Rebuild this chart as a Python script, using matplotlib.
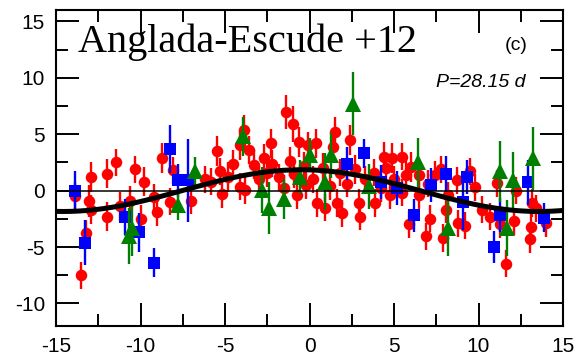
import numpy as np
import matplotlib
matplotlib.use('Agg')
import matplotlib.pyplot as plt
from matplotlib.ticker import MultipleLocator

plt.rcParams['axes.unicode_minus'] = False

# red circles: phase (d), RV residual (m/s), error
red_x = [-13.9, -13.5, -13.2, -13.05, -12.9, -12.9, -12.0, -12.0, -11.45, -11.2,
         -10.6, -10.3, -10.0, -9.8, -9.2, -9.0, -8.7, -8.25, -8.1, -7.0,
         -6.2, -5.5, -5.3, -5.2, -4.5, -4.1, -3.9, -3.6, -4.1, -3.8,
         -3.3, -2.7, -2.3, -2.2, -1.4, -1.15, -0.95, -0.75, -0.6, -0.2,
         -0.07, 0.4, 0.46, 0.9, 1.4, 1.5, 1.6, 1.9, 2.4, 2.9,
         3.0, 3.9, 4.4, 4.55, 4.75, 4.9, 5.45, 5.5, 5.7, 5.9,
         6.5, 6.5, 6.9, 7.1, 7.4, 7.9, 8.1, 8.2, 8.7, 8.8,
         9.2, 9.5, 10.2, 10.7, 11.1, 11.3, 11.6, 12.1, 12.2, 13.05,
         13.1, 13.15, 13.4, 14.0,
         -5.8, -4.8, -3.0, -2.5, -1.8, -1.5, -0.9, -0.3, 0.2, 0.8,
         1.2, 1.8, 2.2, 2.7, 3.3, 3.8, 4.2, 5.0, 6.0, 7.0, 7.8, 9.8]
red_y = [-0.5, -7.5, -3.8, -0.9, -1.7, 1.2, 1.5, -2.3, 2.5, -1.4,
         -0.9, 1.9, -2.5, 0.8, -0.6, -1.9, 2.9, -1.0, 1.8, -0.9,
         1.0, 3.5, 1.7, -0.3, 2.4, 4.0, 5.4, 3.6, 0.35, 0.05,
         2.3, 2.9, 4.2, 2.4, 7.0, 2.6, 5.9, -0.4, 4.3, 0.5,
         4.0, 4.2, -1.1, -1.5, 3.9, 5.2, -1.1, -2.0, 4.5, -1.1,
         -2.3, -1.1, 3.0, 2.0, -0.4, 2.9, -0.2, 3.0, 1.4, -3.0,
         1.4, -0.4, -4.05, -2.5, 1.4, -4.2, -1.7, -0.4, 0.9, -2.9,
         -3.1, 1.7, -1.7, -2.3, 0.65, -3.0, -6.5, -2.7, 0.0, -4.3,
         -3.2, -1.1, -1.55, -2.9,
         0.8, 1.2, 1.0, 1.6, 1.2, 0.2, 1.5, 2.2, 1.0, 2.0,
         0.4, 1.6, 0.6, 1.9, 1.0, 1.6, 0.2, 1.0, 2.1, 0.6, 1.9, 0.3]
red_err = [1.3, 1.2, 1.2, 1.4, 1.3, 1.3, 1.3, 1.3, 1.2, 1.3,
           1.3, 1.2, 1.2, 1.3, 1.2, 1.2, 1.3, 1.2, 1.2, 1.2,
           1.2, 1.3, 1.2, 1.2, 1.2, 1.3, 1.3, 1.2, 1.2, 1.2,
           1.3, 1.2, 1.3, 1.2, 1.5, 1.3, 1.6, 1.2, 1.3, 1.2,
           1.2, 1.3, 1.2, 1.2, 1.3, 1.3, 1.2, 1.2, 1.3, 1.2,
           1.2, 1.2, 1.3, 1.2, 1.2, 1.3, 1.2, 1.2, 1.2, 1.2,
           1.2, 1.2, 1.2, 1.2, 1.2, 1.2, 1.2, 1.2, 1.2, 1.2,
           1.2, 1.2, 1.2, 1.2, 1.2, 1.2, 1.2, 1.2, 1.2, 1.2,
           1.2, 1.2, 1.2, 1.2,
           1.2, 1.3, 1.2, 1.3, 1.2, 1.2, 1.3, 1.2, 1.2, 1.3,
           1.2, 1.2, 1.2, 1.3, 1.2, 1.2, 1.2, 1.2, 1.3, 1.2, 1.2, 1.2]

# blue squares
blue_x = [-13.9, -13.3, -10.9, -10.1, -9.2, -8.25, -7.8, -7.2, 2.2, 3.2,
          4.2, 5.2, 6.2, 7.2, 8.1, 9.1, 9.3, 10.9, 11.3, 12.95, 13.9]
blue_y = [0.0, -4.6, -2.3, -3.7, -6.4, 3.7, 0.9, 0.9, 2.4, 3.3,
          0.8, 0.2, -2.2, 0.5, 1.5, -1.0, 1.2, -5.0, -2.15, 0.75, -2.4]
blue_err = [1.7, 2.0, 1.6, 1.7, 1.3, 2.1, 1.5, 3.7, 1.5, 1.3,
            1.5, 1.5, 1.5, 1.5, 1.6, 2.5, 1.5, 1.4, 1.5, 2.0, 1.3]

# green triangles
green_x = [-10.5, -10.7, -7.8, -6.8, -3.95, -2.8, -2.4, -1.5, -0.56, 0.03,
           0.9, 1.3, 2.6, 3.5, 6.4, 8.2, 11.3, 12.05, 11.7, 13.2]
green_y = [-3.3, -4.0, -1.3, 1.7, 4.8, 0.05, -1.55, -0.75, 1.2, 3.15,
           0.8, 3.15, 7.7, 0.4, 2.5, -3.3, 1.7, 0.9, -3.3, 2.85]
green_err = [2.5, 2.5, 1.3, 1.3, 1.7, 2.0, 2.3, 1.8, 1.5, 1.5,
             2.5, 2.0, 2.8, 2.0, 2.2, 2.5, 2.7, 2.5, 2.5, 2.8]

# fitted signal
period = 28.15
amplitude = 1.85
phase_peak = -0.5

fig = plt.figure(figsize=(5.78, 3.61), dpi=100)
ax = fig.add_axes([0.0969, 0.097, 0.8772, 0.875])

ax.errorbar(red_x, red_y, yerr=red_err, fmt='o', color='#ff0000', ms=8.3,
            elinewidth=1.7, capsize=0, mew=0, zorder=2)
ax.errorbar(blue_x, blue_y, yerr=blue_err, fmt='s', color='#0000ff', ms=8.3,
            elinewidth=1.7, capsize=0, mew=0, zorder=3)
ax.errorbar(green_x, green_y, yerr=green_err, fmt='^', color='#008000', ms=11.5,
            elinewidth=1.7, capsize=0, mew=0, zorder=4)

ax.axhline(0, color='black', lw=1.1, zorder=5)
xs = np.linspace(-15, 15, 400)
ax.plot(xs, amplitude * np.cos(2 * np.pi * (xs - phase_peak) / period),
        color='black', lw=3.6, zorder=6)

ax.set_xlim(-15, 15)
ax.set_ylim(-12, 16)
ax.xaxis.set_major_locator(MultipleLocator(5))
ax.xaxis.set_minor_locator(MultipleLocator(2.5))
ax.yaxis.set_major_locator(MultipleLocator(5))
ax.yaxis.set_minor_locator(MultipleLocator(2.5))
ax.tick_params(which='both', direction='in', top=True, right=True, width=1.4)
ax.tick_params(which='major', length=16.5, pad=8, labelsize=15)
ax.tick_params(which='minor', length=8.6)
for lab in ax.get_xticklabels() + ax.get_yticklabels():
    lab.set_fontfamily('Liberation Sans')
for sp in ax.spines.values():
    sp.set_linewidth(1.5)

ax.text(0.0434, 0.867, 'Anglada-Escude +12', transform=ax.transAxes,
        family='Liberation Serif', fontsize=29, va='baseline', ha='left')
ax.text(0.931, 0.873, '(c)', transform=ax.transAxes,
        family='Liberation Sans', fontsize=14, va='baseline', ha='right')
ax.text(0.925, 0.756, 'P=28.15 d', transform=ax.transAxes,
        family='Liberation Sans', style='italic', fontsize=14,
        va='baseline', ha='right')

fig.savefig('out.png', dpi=100)
